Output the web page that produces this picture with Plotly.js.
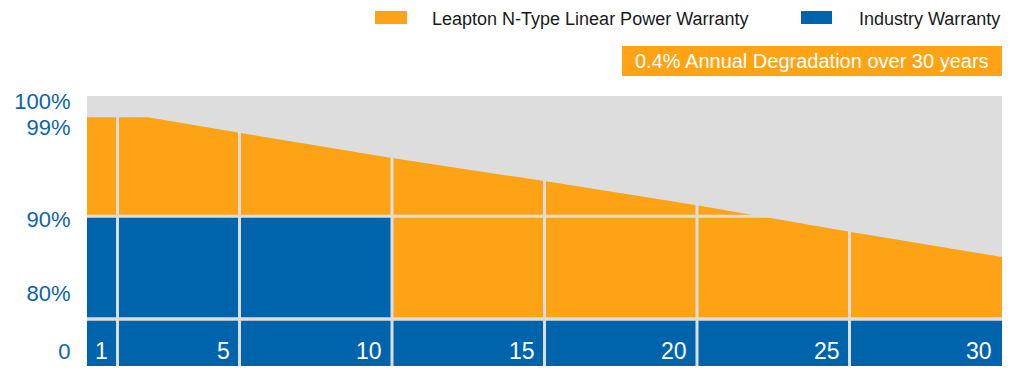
<!DOCTYPE html>
<html>
<head>
<meta charset="utf-8">
<script src="https://cdn.plot.ly/plotly-3.0.1.min.js"></script>
<style>
  html, body { margin: 0; padding: 0; background: #ffffff; }
  #chart { width: 1015px; height: 381px; }
</style>
</head>
<body>
<div id="chart"></div>
<script>
// ---- data ----
const years            = [0, 1, 2, 5, 10, 15, 20, 25, 30];
const leaptonWarranty  = [99.0, 99.0, 99.0, 97.6, 95.3, 93.2, 91.0, 88.6, 86.3];
const industryYears    = [0, 10];
const industryWarranty = [90, 90];
const baseYears        = [0, 30];
const baseLevel        = [80, 80];
const xTickYears       = [1, 5, 10, 15, 20, 25, 30];
const yTickText        = ['100%', '99%', '90%', '80%'];
const baseTickText     = ['0'];
const seriesNames      = ['Leapton N-Type Linear Power Warranty', 'Industry Warranty'];
const badgeText        = '0.4% Annual Degradation over 30 years';

// ---- styling ----
const ORANGE = '#FFA316';
const BLUE   = '#0064AD';
const GREY   = '#DDDDDD';
const LABEL_BLUE = '#0E63AC';
const FONT = '"Liberation Sans", Arial, Helvetica, sans-serif';

// plot area in pixels
const L = 87, R = 1002, T = 96, B = 366;
const W = R - L, H = B - T;
const px = x => (x - L) / W;
const py = y => (B - y) / H;
const split = py(319);

const traces = [
  { type: 'scatter', mode: 'lines', name: seriesNames[0],
    x: years, y: leaptonWarranty, fill: 'tozeroy', fillcolor: ORANGE,
    line: { width: 0, color: ORANGE }, xaxis: 'x', yaxis: 'y', hoverinfo: 'x+y' },
  { type: 'scatter', mode: 'lines', name: seriesNames[1],
    x: industryYears, y: industryWarranty, fill: 'tozeroy', fillcolor: BLUE,
    line: { width: 0, color: BLUE }, xaxis: 'x', yaxis: 'y', hoverinfo: 'x+y' },
  { type: 'scatter', mode: 'lines', name: seriesNames[1], showlegend: false,
    x: baseYears, y: baseLevel, fill: 'tozeroy', fillcolor: BLUE,
    line: { width: 0, color: BLUE }, xaxis: 'x', yaxis: 'y2', hoverinfo: 'skip' }
];

const shapes = [];
const annotations = [];

// vertical separators (same colour as background, drawn above the fills)
xTickYears.slice(0, -1).forEach(yr => {
  shapes.push({ type: 'line', layer: 'above', xref: 'x', yref: 'paper',
    x0: yr, x1: yr, y0: 0, y1: 1, line: { color: GREY, width: 3 } });
});
// horizontal separators
shapes.push({ type: 'line', layer: 'above', xref: 'paper', yref: 'y',
  x0: 0, x1: 1, y0: industryWarranty[0], y1: industryWarranty[0], line: { color: GREY, width: 3 } });
shapes.push({ type: 'line', layer: 'above', xref: 'paper', yref: 'paper',
  x0: 0, x1: 1, y0: split, y1: split, line: { color: GREY, width: 3.5 } });

// custom legend
shapes.push({ type: 'rect', xref: 'paper', yref: 'paper', layer: 'above',
  x0: px(375), x1: px(407), y0: py(24), y1: py(11), fillcolor: ORANGE, line: { width: 0 } });
shapes.push({ type: 'rect', xref: 'paper', yref: 'paper', layer: 'above',
  x0: px(801), x1: px(832), y0: py(24), y1: py(11), fillcolor: BLUE, line: { width: 0 } });
annotations.push({ xref: 'paper', yref: 'paper', x: px(430), y: py(18.5),
  xanchor: 'left', yanchor: 'middle', showarrow: false, text: seriesNames[0],
  font: { family: FONT, size: 18, color: '#1a1a1a' } });
annotations.push({ xref: 'paper', yref: 'paper', x: px(857), y: py(18.5),
  xanchor: 'left', yanchor: 'middle', showarrow: false, text: seriesNames[1],
  font: { family: FONT, size: 18, color: '#1a1a1a' } });

// badge
shapes.push({ type: 'rect', xref: 'paper', yref: 'paper', layer: 'above',
  x0: px(622), x1: px(1002), y0: py(76), y1: py(46), fillcolor: ORANGE, line: { width: 0 } });
annotations.push({ xref: 'paper', yref: 'paper', x: px(812), y: py(61),
  xanchor: 'center', yanchor: 'middle', showarrow: false, text: badgeText,
  font: { family: FONT, size: 20, color: '#ffffff' } });

// year labels, right aligned inside each cell of the bottom band
xTickYears.forEach(yr => {
  annotations.push({ xref: 'x', yref: 'paper', x: yr, y: py(350.5),
    xanchor: 'right', yanchor: 'middle', xshift: -8, showarrow: false,
    text: String(yr), font: { family: FONT, size: 23, color: '#ffffff' } });
});

const layout = {
  width: 1015, height: 381,
  margin: { l: L, r: 1015 - R, t: T, b: 381 - B, pad: 0 },
  paper_bgcolor: '#ffffff',
  plot_bgcolor: GREY,
  showlegend: false,
  font: { family: FONT },
  xaxis: { range: [0, 30], anchor: 'y2', showgrid: false, zeroline: false,
           showticklabels: false, ticks: '', showline: false, fixedrange: true },
  yaxis: { domain: [split, 1], range: [80.66, 100.94], anchor: 'x',
           showgrid: false, zeroline: false, showline: false,
           tickmode: 'array', tickvals: [100.5, 98.05, 89.75, 83.0], ticktext: yTickText,
           ticks: 'outside', ticklen: 11, tickcolor: 'rgba(0,0,0,0)',
           tickfont: { family: FONT, size: 22, color: LABEL_BLUE }, fixedrange: true },
  yaxis2: { domain: [0, split], range: [0, 80], anchor: 'x',
            showgrid: false, zeroline: false, showline: false,
            tickmode: 'array', tickvals: [24.5], ticktext: baseTickText,
            ticks: 'outside', ticklen: 11, tickcolor: 'rgba(0,0,0,0)',
            tickfont: { family: FONT, size: 22, color: LABEL_BLUE }, fixedrange: true },
  shapes: shapes,
  annotations: annotations
};

Plotly.newPlot('chart', traces, layout, { displayModeBar: false, staticPlot: true });
</script>
</body>
</html>
